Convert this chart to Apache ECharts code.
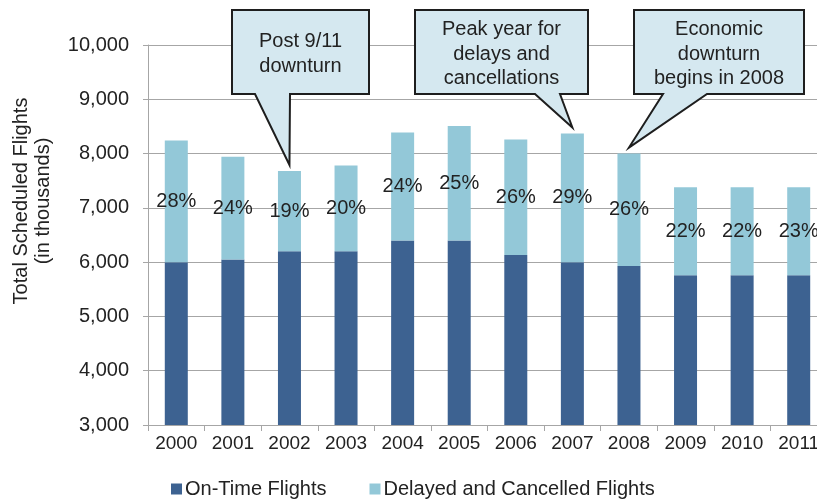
<!DOCTYPE html>
<html>
<head>
<meta charset="utf-8">
<script src="https://cdn.jsdelivr.net/npm/echarts@6/dist/echarts.min.js"></script>
<style>
  html, body { margin: 0; padding: 0; background: #fff; }
  #chart { width: 817px; height: 502px; }
</style>
</head>
<body>
<div id="chart"></div>
<script>
  // data (thousands of flights)
  var years = ['2000', '2001', '2002', '2003', '2004', '2005', '2006', '2007', '2008', '2009', '2010', '2011'];
  var onTime = [6000, 6050, 6200, 6200, 6400, 6400, 6130, 6000, 5930, 5760, 5760, 5760];
  var delayed = [2240, 1890, 1480, 1580, 1990, 2110, 2130, 2370, 2070, 1620, 1620, 1620];
  var delayPct = ['28%', '24%', '19%', '20%', '24%', '25%', '26%', '29%', '26%', '22%', '22%', '23%'];

  // callouts: text + which year they point at
  var notes = [
    { year: '2002', lines: 'Post 9/11\ndownturn', box: [232, 10, 369, 94], base: [255, 290] },
    { year: '2007', lines: 'Peak year for\ndelays and\ncancellations', box: [415, 10, 588, 94], base: [535, 560] },
    { year: '2008', lines: 'Economic\ndownturn\nbegins in 2008', box: [634, 10, 804, 94], base: [663, 707] }
  ];

  var font = '"Liberation Sans", Arial, sans-serif';
  var gray = '#a6a6a6';

  var chart = echarts.init(document.getElementById('chart'));

  var option = {
    animation: false,
    textStyle: { fontFamily: font },
    // plot runs past the right edge (2011 is cut off in the original)
    grid: { left: 148, top: 45, width: 679, height: 380, containLabel: false, outerBoundsMode: 'none' },
    legend: {
      left: 171,
      top: 479,
      padding: 0,
      itemWidth: 11,
      itemHeight: 11,
      itemGap: 43,
      icon: 'rect',
      textStyle: { fontSize: 20, color: '#222', fontFamily: font, padding: [0, 0, 0, -2] },
      data: ['On-Time Flights', 'Delayed and Cancelled Flights']
    },
    xAxis: {
      type: 'category',
      data: years,
      axisLine: { lineStyle: { color: gray, width: 1 } },
      axisTick: { show: true, length: 6, lineStyle: { color: gray } },
      axisLabel: { fontSize: 19, color: '#222', margin: 9, fontFamily: font }
    },
    yAxis: {
      type: 'value',
      min: 3000,
      max: 10000,
      interval: 1000,
      axisLine: { show: true, lineStyle: { color: gray } },
      axisTick: { show: true, length: 5, lineStyle: { color: gray } },
      splitLine: { lineStyle: { color: gray, width: 1 } },
      axisLabel: {
        fontSize: 20, color: '#222', margin: 19, fontFamily: font,
        formatter: function (v) { return v.toLocaleString('en-US'); }
      }
    },
    series: [
      {
        name: 'On-Time Flights',
        type: 'bar',
        stack: 'all',
        barWidth: 23,
        itemStyle: { color: '#3d6291' },
        data: onTime
      },
      {
        name: 'Delayed and Cancelled Flights',
        type: 'bar',
        stack: 'all',
        barWidth: 23,
        itemStyle: { color: '#93c8d8' },
        label: {
          show: true,
          position: 'inside',
          fontSize: 20,
          color: '#222',
          fontFamily: font,
          formatter: function (p) { return delayPct[p.dataIndex]; }
        },
        data: delayed
      }
    ]
  };

  chart.setOption(option);

  // y axis title + callout boxes pointing at the bars
  var graphics = [{
    type: 'text',
    x: 32,
    y: 201,
    rotation: Math.PI / 2,
    style: {
      text: 'Total Scheduled Flights\n(in thousands)',
      font: '20px ' + font,
      fill: '#222',
      align: 'center',
      verticalAlign: 'middle',
      lineHeight: 22
    }
  }];

  notes.forEach(function (n) {
    var i = years.indexOf(n.year);
    var tip = chart.convertToPixel({ gridIndex: 0 }, [n.year, onTime[i] + delayed[i]]);
    var b = n.box;
    graphics.push({
      type: 'polygon',
      shape: {
        points: [
          [b[0], b[1]], [b[2], b[1]], [b[2], b[3]],
          [n.base[1], b[3]], [tip[0], tip[1] - 6], [n.base[0], b[3]],
          [b[0], b[3]]
        ]
      },
      style: { fill: '#d5e8f0', stroke: '#1e1e1e', lineWidth: 2 },
      z: 10
    });
    graphics.push({
      type: 'text',
      x: (b[0] + b[2]) / 2,
      y: (b[1] + b[3]) / 2 + 2,
      style: {
        text: n.lines,
        font: '20px ' + font,
        fill: '#222',
        align: 'center',
        verticalAlign: 'middle',
        lineHeight: 24.5
      },
      z: 11
    });
  });

  chart.setOption({ graphic: graphics });
</script>
</body>
</html>
